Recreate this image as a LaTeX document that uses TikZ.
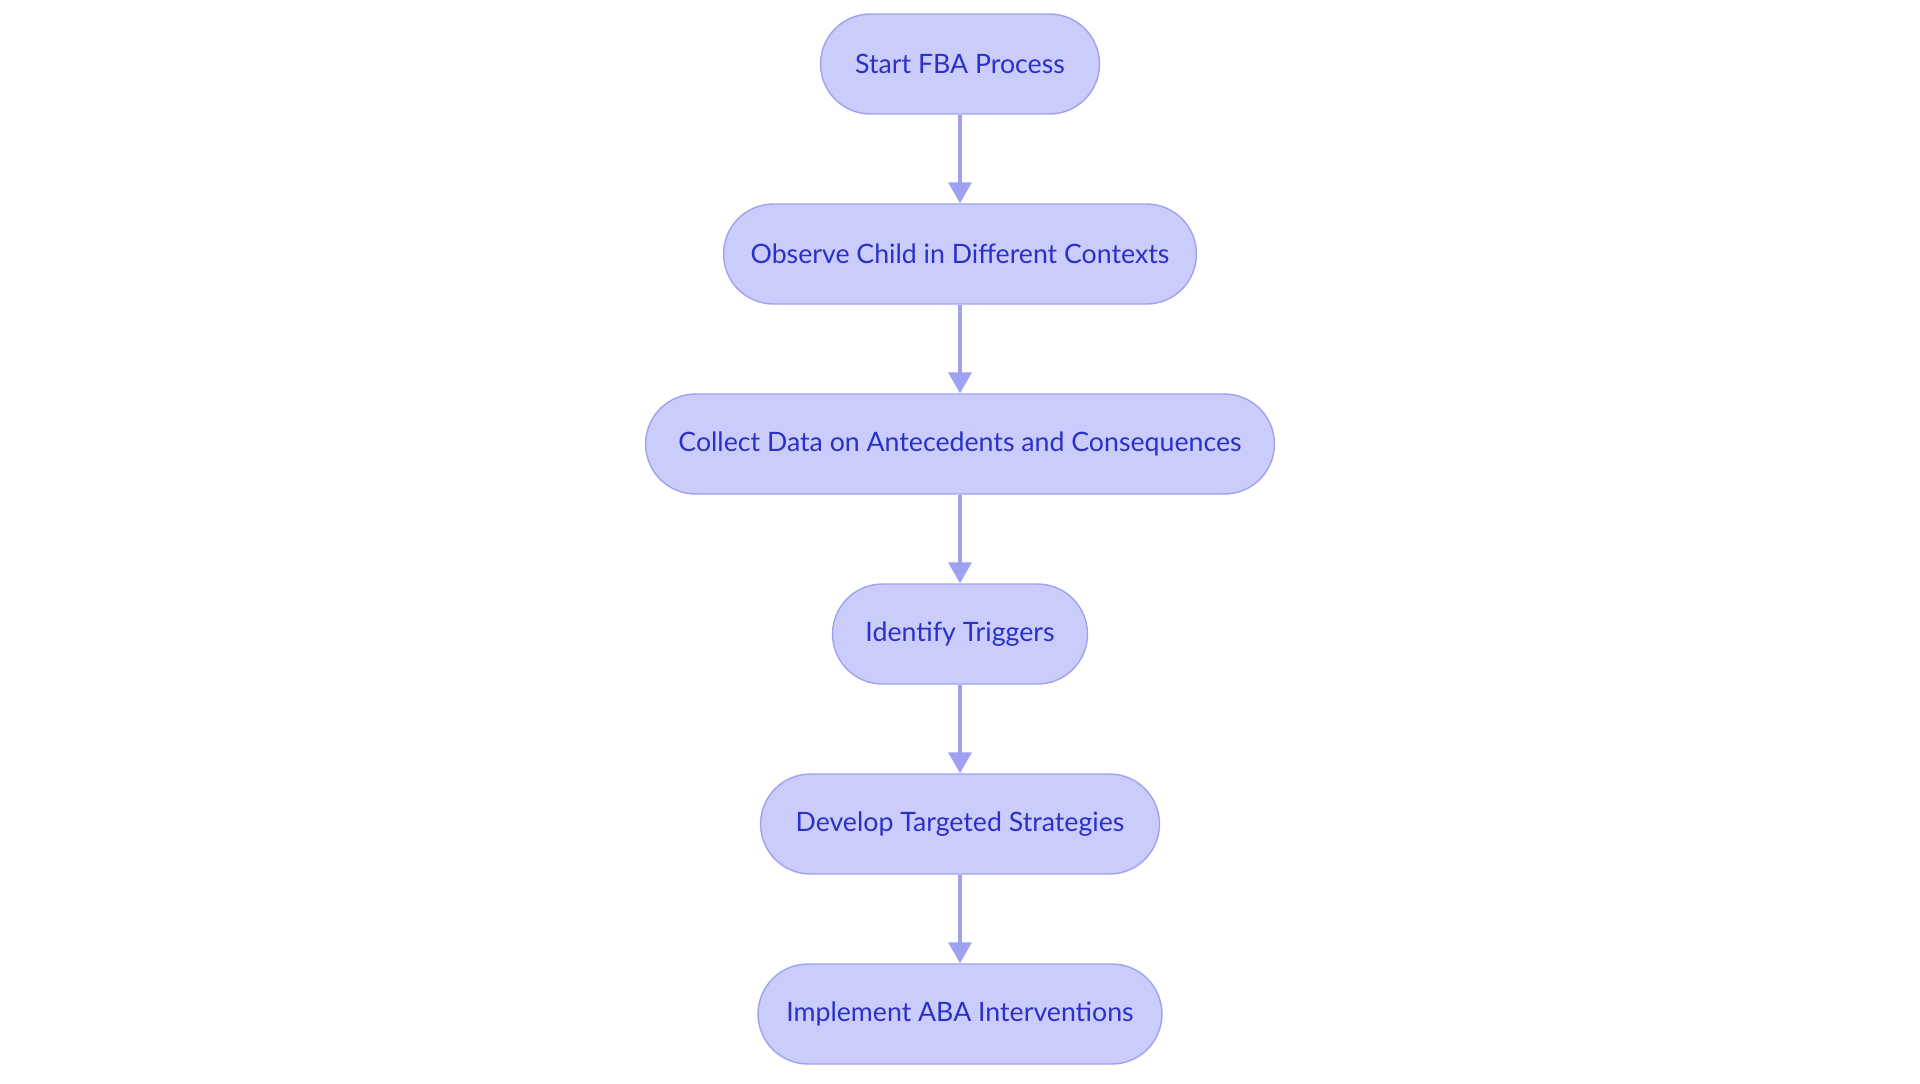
\documentclass[tikz,border=0pt]{standalone}
\usepackage{fontspec}
\setmainfont{Lato}
\usetikzlibrary{arrows.meta}
\definecolor{stepfill}{HTML}{CACCFB}
\definecolor{stepline}{HTML}{9EA2F0}
\definecolor{steptext}{HTML}{2B30C8}
\tikzset{
  stepbox/.style={draw=stepline, fill=stepfill, line width=0.8pt, rounded corners=1cm,
    minimum height=2cm, text=steptext, font=\fontsize{15.2}{18}\selectfont},
  flow/.style={draw=stepline, line width=2pt, -{Triangle[width=0.46cm,length=0.42cm]}}
}
\begin{document}
\begin{tikzpicture}[x=0.02cm, y=-0.02cm]
  \useasboundingbox (0,0) rectangle (1920,1083);
  \node[stepbox, minimum width=5.58cm]  (start)    at (960,64)   {Start FBA Process};
  \node[stepbox, minimum width=9.46cm]  (observe)  at (960,254)  {Observe Child in Different Contexts};
  \node[stepbox, minimum width=12.58cm] (collect)  at (960,444)  {Collect Data on Antecedents and Consequences};
  \node[stepbox, minimum width=5.1cm]   (triggers) at (960,634)  {Identify Triggers};
  \node[stepbox, minimum width=7.98cm]  (develop)  at (960,824)  {Develop Targeted Strategies};
  \node[stepbox, minimum width=8.08cm]  (aba)      at (960,1014) {Implement ABA Interventions};
  \draw[flow] (start) -- (observe);
  \draw[flow] (observe) -- (collect);
  \draw[flow] (collect) -- (triggers);
  \draw[flow] (triggers) -- (develop);
  \draw[flow] (develop) -- (aba);
\end{tikzpicture}
\end{document}
